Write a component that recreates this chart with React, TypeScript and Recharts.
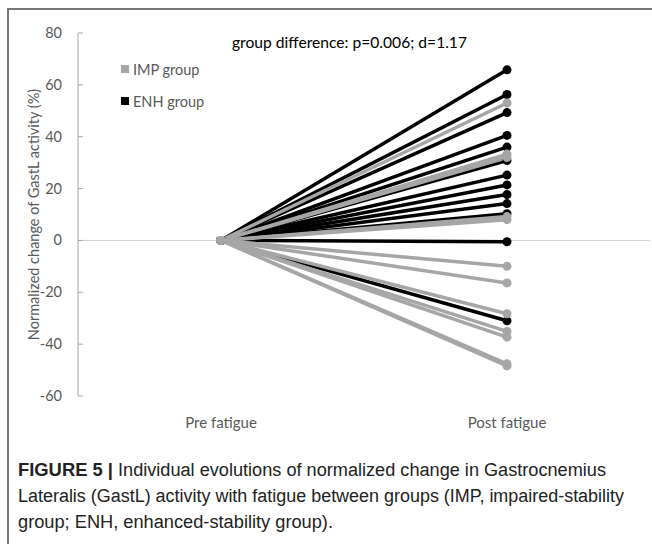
import React from "react";
import { LineChart, Line, XAxis, YAxis, ReferenceLine } from "recharts";

const CATEGORIES = ["Pre fatigue", "Post fatigue"];
const PRE_VALUE = 0;
// normalized change at post fatigue, one value per subject
const ENH_POST = [65.8, 56.3, 49.3, 40.5, 36.0, 30.8, 25.2, 21.4, 17.7, 14.2, 10.3, -0.5, -31.0];
const IMP_POST = [53.0, 33.3, 32.0, 9.2, 8.0, -10.0, -16.4, -28.3, -35.1, -37.3, -47.6, -48.4];
const Y_TICKS = [-60, -40, -20, 0, 20, 40, 60, 80];
const TITLE = "group difference: p=0.006; d=1.17";
const Y_LABEL = "Normalized change of GastL activity (%)";
const LEGEND = ["IMP group", "ENH group"];
const CAPTION_BOLD = "FIGURE 5 |";
const CAPTION = [
  "Individual evolutions of normalized change in Gastrocnemius",
  "Lateralis (GastL) activity with fatigue between groups (IMP, impaired-stability",
  "group; ENH, enhanced-stability group).",
];

const GRAY = "#a6a6a6";
const BLACK = "#000000";
const AXIS_GRAY = "#a6a6a6";
const TXT = "#595959";
const FONT = "Lato, 'Open Sans', sans-serif";
const CAP_FONT = "'Liberation Sans', Arial, sans-serif";

const data = CATEGORIES.map((cat, i) => {
  const row: Record<string, number | string> = { cat };
  ENH_POST.forEach((v, k) => (row[`enh${k}`] = i === 0 ? PRE_VALUE : v));
  IMP_POST.forEach((v, k) => (row[`imp${k}`] = i === 0 ? PRE_VALUE : v));
  return row;
});

function YTick({ x, y, payload }: any) {
  const ax = x + 16;
  return (
    <g>
      <line x1={ax} x2={ax + 5} y1={y} y2={y} stroke={AXIS_GRAY} />
      <text x={x} y={y} dy={5} textAnchor="end" fontSize={14.5} fill={TXT} fontFamily={FONT}>
        {payload.value}
      </text>
    </g>
  );
}

function XTick({ x, y, payload }: any) {
  return (
    <text x={x} y={y} dy={30} textAnchor="middle" fontSize={15} fill={TXT} fontFamily={FONT}>
      {payload.value}
    </text>
  );
}

function series(prefix: string, values: number[], color: string) {
  return values.map((_, k) => (
    <Line
      key={`${prefix}${k}`}
      dataKey={`${prefix}${k}`}
      stroke={color}
      strokeWidth={3.5}
      dot={{ r: 4.5, fill: color, stroke: color, strokeWidth: 0 }}
      activeDot={false}
      isAnimationActive={false}
    />
  ));
}

export default function App() {
  return (
    <div style={{ position: "absolute", left: 0, top: 0, width: 652, height: 544, background: "#fff" }}>
      <LineChart width={652} height={440} data={data} margin={{ top: 33, right: 2, left: 0, bottom: 14 }}>
        <XAxis
          dataKey="cat"
          axisLine={false}
          tickLine={false}
          tickSize={0}
          height={30}
          padding={{ left: 143, right: 143 }}
          tick={<XTick />}
        />
        <YAxis
          width={78}
          domain={[-60, 80]}
          ticks={Y_TICKS}
          interval={0}
          axisLine={{ stroke: AXIS_GRAY }}
          tickLine={false}
          tickSize={0}
          tickMargin={16}
          tick={<YTick />}
          label={{
            value: Y_LABEL,
            angle: -90,
            position: "insideLeft",
            offset: 34,
            style: { textAnchor: "middle", fontSize: 14.5, fill: TXT, fontFamily: FONT },
          }}
        />
        <ReferenceLine y={0} stroke="#d0d0d0" strokeWidth={1} />
        {series("enh", ENH_POST, BLACK)}
        {series("imp", IMP_POST, GRAY)}
      </LineChart>
      <svg width={652} height={544} style={{ position: "absolute", left: 0, top: 0, pointerEvents: "none" }}>
        <line x1={8} y1={9} x2={652} y2={9} stroke="#777" strokeWidth={2} />
        <line x1={8} y1={8} x2={8} y2={544} stroke="#777" strokeWidth={2} />
        <text x={232} y={48} fontSize={15} fill="#000" fontFamily={FONT} textLength={235} lengthAdjust="spacingAndGlyphs">
          {TITLE}
        </text>
        <rect x={121} y={65} width={8} height={8} fill={GRAY} />
        <text x={133} y={74.5} fontSize={14.5} fill={TXT} fontFamily={FONT}>
          {LEGEND[0]}
        </text>
        <rect x={121} y={97} width={8} height={8} fill={BLACK} />
        <text x={133} y={106.5} fontSize={14.5} fill={TXT} fontFamily={FONT}>
          {LEGEND[1]}
        </text>
        <text x={18} y={476} fontSize={18} fontWeight="bold" fill="#222" fontFamily={CAP_FONT} textLength={95} lengthAdjust="spacingAndGlyphs">
          {CAPTION_BOLD}
        </text>
        <text x={118} y={476} fontSize={18} fill="#222" fontFamily={CAP_FONT} textLength={488} lengthAdjust="spacingAndGlyphs">
          {CAPTION[0]}
        </text>
        <text x={18} y={502} fontSize={18} fill="#222" fontFamily={CAP_FONT} textLength={606} lengthAdjust="spacingAndGlyphs">
          {CAPTION[1]}
        </text>
        <text x={18} y={528} fontSize={18} fill="#222" fontFamily={CAP_FONT} textLength={315} lengthAdjust="spacingAndGlyphs">
          {CAPTION[2]}
        </text>
      </svg>
    </div>
  );
}
